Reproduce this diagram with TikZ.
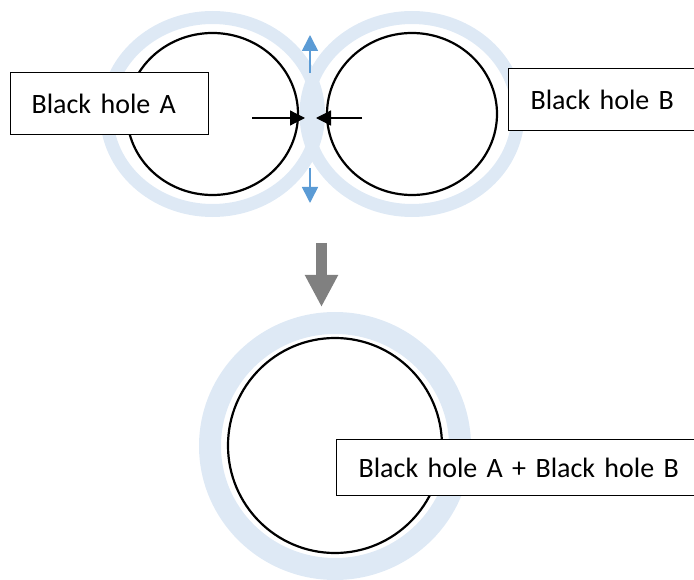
\documentclass[tikz,border=0pt]{standalone}
\usepackage{fontspec}
\setmainfont{Carlito}
\usepackage{xcolor}
\definecolor{ring}{RGB}{222,233,245}
\definecolor{flow}{RGB}{91,155,213}
\definecolor{merge}{RGB}{128,128,128}
\usetikzlibrary{arrows.meta}

\begin{document}
\begin{tikzpicture}[x=1pt, y=-1pt,
  labelbox/.style={draw, line width=1.2pt, fill=white, anchor=north west, align=left, font=\fontsize{28}{34}\selectfont},
  push/.style={line width=1.2pt, -{Triangle[length=15pt, width=15pt]}},
  drift/.style={flow, line width=1.6pt, -{Triangle[length=16pt, width=16pt]}},
  fuse/.style={merge, line width=11pt, -{Triangle[length=32pt, width=31pt]}}]
\useasboundingbox (0,0) rectangle (694,580);
\foreach \x/\y/\rx/\ry/\w in {212.5/114/106/96.5/13, 412/114/106/96.5/13, 335/446/125/123/22}{
\draw[ring, line width=\w pt] (\x,\y) ellipse[x radius=\rx, y radius=\ry];
}
\foreach \x/\y/\rx/\ry in {212.5/114/85.5/81, 412/114/85/81, 335/445.5/107/107.5}{
\draw[line width=2.2pt] (\x,\y) ellipse[x radius=\rx, y radius=\ry];
}
\coordinate (pushL) at (252,118);
\coordinate (touchL) at (305,118);
\coordinate (pushR) at (362,118);
\coordinate (touchR) at (316,118);
\draw[push] (pushL) -- (touchL);
\draw[push] (pushR) -- (touchR);
\coordinate (upfoot) at (310,73);
\coordinate (uptip) at (310,35);
\coordinate (downfoot) at (310,168);
\coordinate (downtip) at (310,203);
\draw[drift] (upfoot) -- (uptip);
\draw[drift] (downfoot) -- (downtip);
\coordinate (fusetop) at (321.5,243);
\coordinate (fusetip) at (321.5,307);
\draw[fuse] (fusetop) -- (fusetip);
\node[labelbox, inner xsep=21pt, text width=156pt, minimum height=62pt] (holeA) at (10,72) {Black hole A};
\node[labelbox, inner xsep=22pt, text width=156pt, minimum height=62pt] (holeB) at (508,68) {Black hole B};
\node[labelbox, inner xsep=22pt, text width=326pt, minimum height=56pt] (holeAB) at (336,439) {Black hole A + Black hole B};
\end{tikzpicture}
\end{document}
